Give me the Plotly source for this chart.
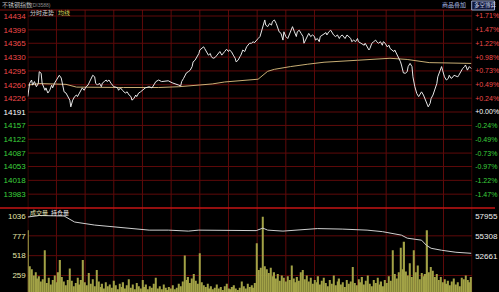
import plotly.graph_objects as go

W, H = 499, 292

# ---------------- data ----------------
title_name = "不锈钢指数"
title_code = "(DI3588)"
base_price = 14191

price_ticks = [14434, 14399, 14365, 14330, 14295, 14260, 14226, 14191,
               14157, 14122, 14087, 14053, 14018, 13983]
pct_labels = ["+1.71%", "+1.47%", "+1.22%", "+0.98%", "+0.73%", "+0.49%", "+0.24%", "+0.00%",
              "-0.24%", "-0.49%", "-0.73%", "-0.97%", "-1.22%", "-1.47%"]
vol_ticks = [259, 518, 777, 1036]
oi_ticks = [52661, 55308, 57955]
time_grid = [30, 60, 90, 120, 150, 180, 210, 240, 270, 300, 345, 375, 405, 435]

price_min = [0, 2, 4, 5, 7, 9, 11, 12, 14, 15,
             18, 19, 21, 23, 25, 26, 28, 30, 31, 33,
             35, 37, 38, 40, 42, 44, 45, 47, 49, 51,
             52, 54, 56, 57, 59, 61, 63, 64, 66, 68,
             70, 71, 73, 75, 77, 78, 80, 82, 83, 85,
             87, 89, 90, 92, 94, 95, 97, 99, 101, 102,
             104, 106, 108, 109, 111, 113, 114, 116, 118, 120,
             123, 127, 130, 134, 137, 140, 144, 147, 151, 154,
             158, 160, 161, 163, 165, 166, 168, 170, 172, 173,
             175, 177, 179, 180, 182, 184, 185, 187, 189, 191,
             192, 194, 196, 198, 199, 201, 203, 204, 206, 208,
             210, 211, 213, 215, 217, 218, 220, 222, 223, 225,
             227, 229, 230, 232, 234, 236, 237, 239, 241, 243,
             244, 246, 248, 249, 251, 253, 255, 256, 258, 260,
             262, 263, 265, 267, 268, 270, 272, 274, 275, 277,
             279, 281, 282, 284, 286, 288, 289, 291, 293, 294,
             296, 298, 300, 301, 303, 305, 306, 308, 310, 312,
             313, 315, 317, 319, 320, 322, 324, 326, 327, 329,
             332, 334, 338, 339, 341, 343, 345, 346, 348, 350,
             352, 353, 355, 357, 358, 360, 362, 364, 365, 367,
             369, 371, 372, 374, 376, 378, 379, 381, 383, 384,
             386, 388, 390, 391, 393, 395, 397, 398, 400, 402,
             403, 405, 407, 409, 410, 412, 414, 416, 417, 419,
             421, 422, 424, 426, 428, 429, 431, 433, 434, 436,
             438, 440, 441, 443, 445, 446, 448, 450, 451, 453,
             455, 457, 458, 460, 462, 464]
price_val = [14230, 14264, 14272, 14259, 14268, 14255, 14263, 14293, 14289, 14264,
             14246, 14252, 14239, 14246, 14259, 14252, 14264, 14272, 14277, 14284,
             14277, 14255, 14242, 14239, 14230, 14221, 14204, 14221, 14230, 14234,
             14230, 14239, 14246, 14252, 14246, 14255, 14259, 14264, 14277, 14284,
             14280, 14264, 14259, 14264, 14255, 14264, 14268, 14272, 14268, 14272,
             14264, 14259, 14255, 14254, 14252, 14246, 14252, 14246, 14242, 14239,
             14242, 14234, 14230, 14221, 14225, 14234, 14230, 14239, 14242, 14246,
             14252, 14255, 14252, 14268, 14272, 14268, 14269, 14270, 14265, 14263,
             14259, 14257, 14268, 14276, 14284, 14290, 14293, 14297, 14306, 14318,
             14322, 14331, 14339, 14348, 14352, 14356, 14352, 14344, 14335, 14339,
             14331, 14327, 14329, 14335, 14339, 14344, 14335, 14339, 14344, 14350,
             14344, 14348, 14344, 14335, 14327, 14318, 14322, 14331, 14335, 14348,
             14344, 14356, 14360, 14365, 14365, 14369, 14366, 14373, 14377, 14382,
             14390, 14407, 14424, 14411, 14407, 14415, 14411, 14420, 14424, 14415,
             14403, 14394, 14390, 14373, 14394, 14382, 14377, 14390, 14398, 14407,
             14394, 14382, 14394, 14398, 14390, 14382, 14365, 14377, 14386, 14390,
             14382, 14386, 14382, 14373, 14377, 14369, 14382, 14386, 14390, 14392,
             14386, 14394, 14398, 14390, 14386, 14382, 14386, 14377, 14382, 14386,
             14377, 14386, 14377, 14369, 14373, 14369, 14377, 14369, 14366, 14365,
             14360, 14365, 14356, 14348, 14352, 14365, 14369, 14373, 14369, 14365,
             14369, 14360, 14369, 14365, 14356, 14360, 14352, 14348, 14344, 14348,
             14339, 14327, 14318, 14310, 14290, 14289, 14293, 14306, 14314, 14306,
             14280, 14255, 14238, 14230, 14234, 14242, 14234, 14221, 14213, 14204,
             14213, 14225, 14234, 14246, 14263, 14280, 14293, 14306, 14297, 14280,
             14272, 14276, 14284, 14276, 14280, 14284, 14282, 14280, 14284, 14293,
             14301, 14306, 14310, 14297, 14306, 14301]

avg_min = [0, 12, 40, 51, 100, 137, 158, 179, 193, 206, 237, 241, 244, 248, 251,
           258, 268, 275, 293, 310, 345, 379, 397, 420, 464]
avg_val = [14259, 14263, 14261, 14254, 14253, 14253, 14255, 14259, 14262, 14267,
           14272, 14274, 14280, 14288, 14294, 14299, 14302, 14306, 14312, 14317,
           14322, 14327, 14324, 14316, 14314]

oi_min = [0, 12, 38, 44, 49, 70, 106, 127, 147, 168, 179, 210, 239, 246, 251,
          267, 282, 303, 329, 355, 371, 381, 391, 397, 412, 417, 422, 433, 448, 464]
oi_val = [57820, 58020, 57955, 57550, 57150, 56745, 56340, 56070, 56070, 55940,
          56070, 56070, 56005, 56340, 56070, 55940, 56070, 56275, 56210, 56070,
          55870, 55670, 55400, 55000, 54730, 54060, 53650, 53385, 53120, 52980]

vol_min = list(range(0, 465, 2))
vol_val = [850, 380, 340, 260, 300, 220, 250, 180, 210, 590,
           160, 230, 140, 200, 260, 170, 300, 460, 240, 180,
           130, 200, 350, 190, 120, 160, 230, 140, 200, 460,
           170, 130, 290, 150, 210, 120, 330, 180, 110, 150,
           90, 170, 120, 140, 100, 190, 130, 80, 150, 110,
           170, 90, 130, 210, 100, 140, 80, 160, 120, 90,
           200, 110, 140, 80, 120, 100, 150, 230, 90, 120,
           80, 140, 100, 70, 110, 90, 130, 80, 100, 150,
           120, 180, 520, 200, 240, 160, 220, 280, 190, 150,
           550, 170, 130, 110, 150, 90, 120, 80, 100, 140,
           90, 110, 70, 120, 150, 90, 80, 110, 130, 90,
           70, 100, 180, 120, 90, 150, 110, 130, 100, 160,
           680, 330, 360, 1025, 380, 340, 290, 360, 250, 300,
           220, 280, 190, 260, 230, 180, 250, 200, 390, 220,
           170, 240, 190, 300, 330, 210, 260, 180, 230, 150,
           200, 170, 250, 140, 190, 230, 160, 120, 200, 150,
           260, 130, 180, 220, 140, 170, 110, 200, 150, 180,
           370, 160, 130, 210, 170, 240, 140, 190, 260, 150,
           120, 200, 160, 230, 140, 180, 120, 200, 160, 250,
           190, 590, 280, 220, 300, 620, 340, 700, 310, 260,
           420, 240, 590, 300, 390, 210, 290, 250, 280, 850,
           300, 370, 320, 240, 280, 200, 240, 170, 210, 150,
           190, 130, 180, 220, 140, 170, 120, 230, 210, 260,
           200, 170, 240]

assert len(price_min) == len(price_val)
assert len(avg_min) == len(avg_val)
assert len(oi_min) == len(oi_val)
assert len(vol_min) == len(vol_val)

# ---------------- style ----------------
RED_T = "#f04a4a"
GRN_T = "#3cd23c"
WHT_T = "#ffffff"
GRID = "#5e0a0a"
BORDER = "#7a0e0e"
SEP = "#c41414"
FONT = "Liberation Sans"
CJK = "Noto Sans CJK SC"


def colored(txt, col):
    return f'<span style="color:{col}">{txt}</span>'


def col_for(v):
    if v > base_price:
        return RED_T
    if v < base_price:
        return GRN_T
    return WHT_T


left_text = [colored(str(v), col_for(v)) for v in price_ticks]
right_text = [colored(t, col_for(v)) for t, v in zip(pct_labels, price_ticks)]

x0, x1 = 28 / W, 476 / W
y_sep = 1 - 208 / H
y_top = 1 - 10 / H

fig = go.Figure()
fig.add_trace(go.Bar(x=vol_min, y=vol_val, xaxis="x", yaxis="y2", width=1.3,
                     marker=dict(color="#a2a246", line=dict(width=0)), hoverinfo="skip"))
fig.add_trace(go.Scatter(x=oi_min, y=oi_val, xaxis="x", yaxis="y4", mode="lines",
                         line=dict(color="#cfcfcf", width=1), hoverinfo="skip"))
fig.add_trace(go.Scatter(x=avg_min, y=avg_val, xaxis="x", yaxis="y", mode="lines",
                         line=dict(color="#c8ae74", width=1), hoverinfo="skip"))
fig.add_trace(go.Scatter(x=price_min, y=price_val, xaxis="x", yaxis="y", mode="lines",
                         line=dict(color="#e6e6e6", width=1), hoverinfo="skip"))
fig.add_trace(go.Scatter(x=price_min, y=price_val, xaxis="x", yaxis="y3", mode="lines",
                         line=dict(color="rgba(0,0,0,0)", width=0), hoverinfo="skip"))

shapes = []
# vertical time grid lines
for m in time_grid:
    shapes.append(dict(type="line", xref="x", yref="paper", x0=m, x1=m, y0=0, y1=y_top,
                       line=dict(color=GRID, width=1), layer="below"))
for m in (0, 465):
    shapes.append(dict(type="line", xref="x", yref="paper", x0=m, x1=m, y0=0, y1=y_top,
                       line=dict(color=BORDER, width=1), layer="below"))
# horizontal price grid lines
for v in price_ticks:
    shapes.append(dict(type="line", xref="x", yref="y", x0=0, x1=465, y0=v, y1=v,
                       line=dict(color=GRID, width=1), layer="below"))
# volume grid lines
for v in vol_ticks[:3]:
    shapes.append(dict(type="line", xref="x", yref="y2", x0=0, x1=465, y0=v, y1=v,
                       line=dict(color=GRID, width=1), layer="below"))
# top border and panel separator
shapes.append(dict(type="line", xref="paper", yref="paper", x0=0, x1=x1, y0=y_top, y1=y_top,
                   line=dict(color=BORDER, width=1), layer="below"))
shapes.append(dict(type="line", xref="paper", yref="paper", x0=0, x1=1, y0=y_sep, y1=y_sep,
                   line=dict(color=SEP, width=1.5), layer="below"))
# top-right button box
shapes.append(dict(type="rect", xref="paper", yref="paper", x0=475.5 / W, x1=498.5 / W,
                   y0=1 - 10 / H, y1=1 - 1 / H, line=dict(color="#9aa6c8", width=1),
                   fillcolor="#10183a"))


def ann(text, px, py, size, color, family=CJK):
    return dict(text=text, x=px / W, y=1 - py / H, xref="paper", yref="paper",
                xanchor="left", yanchor="middle", showarrow=False,
                font=dict(size=size, color=color, family=family))


annotations = [
    ann(title_name, 0, 4.5, 6, "#bdbdbd"),
    ann(title_code, 29, 4.5, 5, "#8c8c8c", FONT),
    ann("分时走势", 28.5, 13, 6, "#cfcfcf"),
    ann("均线", 56, 13, 6, "#d8d85a"),
    ann("成交量", 28.5, 212.5, 6, "#e4e4b4"),
    ann("持仓量", 49.5, 212.5, 6, "#ececec"),
    ann("商品叠加", 444, 4.5, 6, "#a9b9e2"),
    ann("多空博弈", 475.5, 5, 5.5, "#d0d8f0"),
]

fig.update_layout(
    width=W, height=H, margin=dict(l=0, r=0, t=0, b=0),
    paper_bgcolor="black", plot_bgcolor="black", showlegend=False,
    shapes=shapes, annotations=annotations,
    xaxis=dict(domain=[x0, x1], range=[0, 465], showgrid=False, zeroline=False,
               showticklabels=False, ticks="", showline=False, anchor="y"),
    yaxis=dict(domain=[y_sep, y_top], range=[13948, 14449.2], tickvals=price_ticks,
               ticktext=left_text, showgrid=False, zeroline=False, showline=False,
               ticks="", tickfont=dict(size=8, family=FONT), ticklabelstandoff=1,
               anchor="x", side="left"),
    yaxis3=dict(overlaying="y", side="right", range=[13948, 14449.2], tickvals=price_ticks,
                ticktext=right_text, showgrid=False, zeroline=False, showline=False,
                ticks="", tickfont=dict(size=7, family=FONT), ticklabelstandoff=2,
                anchor="x"),
    yaxis2=dict(domain=[0, y_sep], range=[43.4, 1140.5], tickvals=vol_ticks,
                ticktext=[str(v) for v in vol_ticks], showgrid=False, zeroline=False,
                showline=False, ticks="", tickfont=dict(size=8, family=FONT, color="#e6e6a8"),
                ticklabelstandoff=1, anchor="x", side="left"),
    yaxis4=dict(overlaying="y2", side="right", range=[47817, 59022], tickvals=oi_ticks,
                ticktext=[str(v) for v in oi_ticks], showgrid=False, zeroline=False,
                showline=False, ticks="", tickfont=dict(size=8, family=FONT, color="#f0f0f0"),
                ticklabelstandoff=2, anchor="x"),
)

fig.write_html("out.html")
